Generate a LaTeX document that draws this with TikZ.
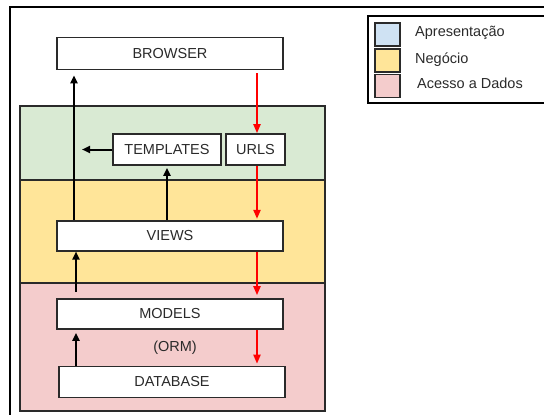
\documentclass[tikz,border=0pt]{standalone}
\usepackage{fontspec}
\setmainfont{Liberation Sans}
\usetikzlibrary{arrows.meta}
\definecolor{presblue}{HTML}{CFE2F3}
\definecolor{bizyellow}{HTML}{FFE599}
\definecolor{datapink}{HTML}{F4CCCC}
\definecolor{urlgreen}{HTML}{D9EAD3}
\definecolor{edge}{HTML}{2A2A2A}
\begin{document}
\begin{tikzpicture}[x=1pt,y=-1pt,
  box/.style={draw=edge, fill=white, line width=1.6pt, minimum height=30pt, inner sep=0pt,
    text=edge, font=\fontsize{14.5}{17}\selectfont},
  band/.style={draw=edge, line width=1.6pt},
  swatch/.style={draw=edge, line width=1.6pt, minimum width=25pt, minimum height=23pt, inner sep=0pt},
  legtext/.style={anchor=west, inner sep=0pt, text=edge, font=\fontsize{14.5}{17}\selectfont},
  uparr/.style={-{Triangle[width=7pt,length=8pt]}, line width=2pt, draw=black},
  downarr/.style={-{Triangle[width=7pt,length=9pt]}, line width=2pt, draw=red}
]
    \useasboundingbox (0,0) rectangle (544,415);
    \draw[line width=1.6pt] (10,420) -- (10,7) -- (550,7);

    % layers
    \draw[band, fill=urlgreen] (20,106) rectangle (325,180);
    \draw[band, fill=bizyellow] (20,180) rectangle (325,283);
    \draw[band, fill=datapink] (20,283) rectangle (325,411);

    \node[box, minimum width=226pt, minimum height=32pt] (browser) at (170,53.5) {BROWSER};
    \node[box, minimum width=108pt, minimum height=31pt] (templates) at (167,149.5) {TEMPLATES};
    \node[box, minimum width=59pt, minimum height=31pt] (urls) at (255.5,149.5) {URLS};
    \node[box, minimum width=226pt] (views) at (170,235.7) {VIEWS};
    \node[box, minimum width=226pt] (models) at (170,314) {MODELS};
    \node[box, minimum width=226pt, minimum height=31pt] (database) at (172,382) {DATABASE};
    \node[text=edge, font=\fontsize{14.5}{17}\selectfont] (orm) at (175,348) {(ORM)};

    \coordinate (tplout) at (82,149.5);
    \coordinate (leftcol) at (74,0);
    \coordinate (upcol) at (76,0);
    \coordinate (redcol) at (257,0);

    \draw[uparr, shorten >=5pt] (views.north -| leftcol) -- (browser.south -| leftcol);
    \draw[uparr] (templates.west) -- (tplout);
    \draw[uparr, shorten >=2pt] (views.north -| templates) -- (templates.south);
    \draw[uparr, shorten <=6pt] (models.north -| upcol) -- (views.south -| upcol);
    \draw[uparr, shorten >=3pt] (database.north -| upcol) -- (models.south -| upcol);

    \draw[downarr, shorten <=3pt] (browser.south -| redcol) -- (urls.north -| redcol);
    \draw[downarr, shorten >=1pt] (urls.south -| redcol) -- (views.north -| redcol);
    \draw[downarr, shorten >=3pt] (views.south -| redcol) -- (models.north -| redcol);
    \draw[downarr, shorten >=2pt] (models.south -| redcol) -- (database.north -| redcol);

    % legend
    \draw[line width=1.6pt] (550,16) -- (368,16) -- (368,103) -- (550,103);
    \node[swatch, fill=presblue] (sw1) at (387.5,34.5) {};
    \node[swatch, fill=bizyellow] (sw2) at (387.5,60.5) {};
    \node[swatch, fill=datapink] (sw3) at (387.5,86) {};
    \node[legtext] (t1) at (415,33) {Apresentação};
    \node[legtext] (t2) at (415,60) {Negócio};
    \node[legtext] (t3) at (417,83) {Acesso a Dados};
\end{tikzpicture}
\end{document}
